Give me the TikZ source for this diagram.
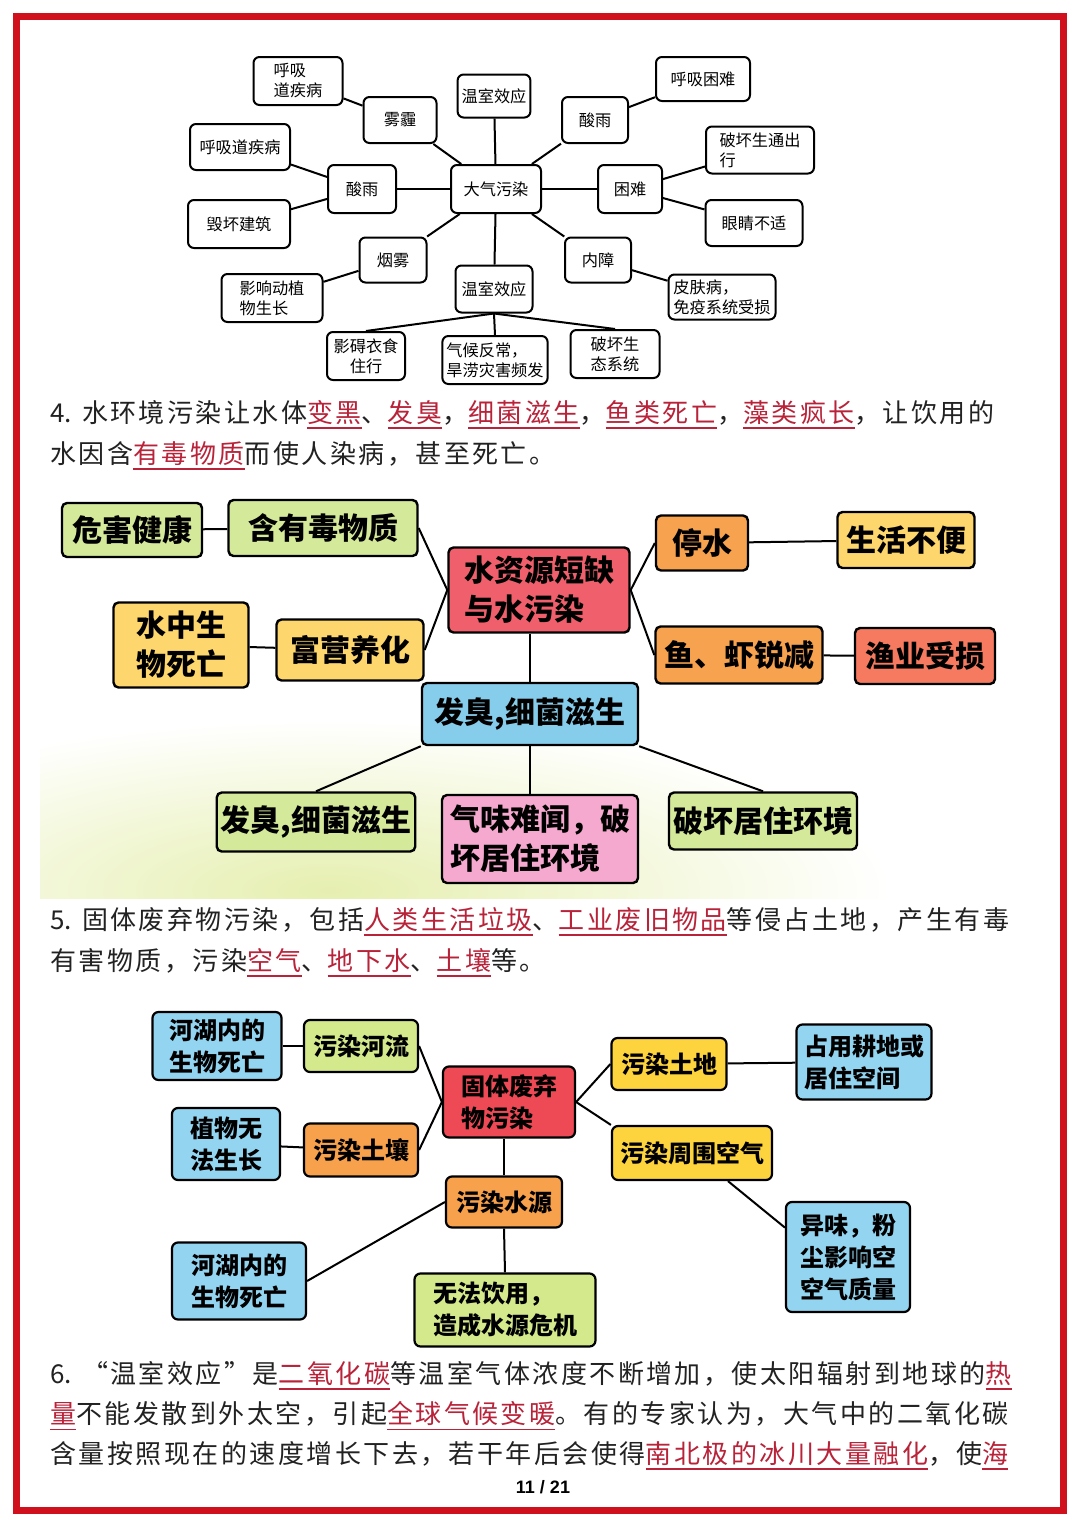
\documentclass[tikz,border=0pt]{standalone}
\usepackage{fontspec}
\usepackage{tikz}
\usetikzlibrary{positioning}
\setmainfont{Noto Sans CJK SC}
\newfontfamily\corps[LetterSpace=9.5]{Noto Sans CJK SC}
\newfontfamily\schema{Noto Sans CJK SC}
\newfontfamily\numpage{Liberation Sans}
\definecolor{cadrerouge}{HTML}{D0101C}
\definecolor{soulrouge}{HTML}{B8233A}
\definecolor{encre}{HTML}{222222}
\definecolor{vertB}{HTML}{D5E99A}
\definecolor{jauneB}{HTML}{FDD66E}
\definecolor{orangeB}{HTML}{F7A24E}
\definecolor{rougeB}{HTML}{F0606C}
\definecolor{corailB}{HTML}{F57A5F}
\definecolor{bleuB}{HTML}{86CDEC}
\definecolor{roseB}{HTML}{F5A9CE}
\definecolor{vertC}{HTML}{D4E98C}
\definecolor{rougeC}{HTML}{EE4A56}
\definecolor{jauneC}{HTML}{FDD43E}
\definecolor{orangeC}{HTML}{F7A14C}
\definecolor{bleuC}{HTML}{93D5F1}
\definecolor{lavis}{HTML}{E6EFB0}
\newcommand{\souligne}[1]{\setbox0\hbox{#1}\rlap{\color{soulrouge}\rule[-0.24em]{\wd0}{0.85pt}}{\color{soulrouge}#1}}
\newcommand{\numero}[1]{{\schema #1}\hspace{5pt}}

\begin{document}
\begin{tikzpicture}[x=0.5pt, y=-0.5pt,
  taille/.style 2 args={minimum width=#1*0.5pt, minimum height=#2*0.5pt},
  blocA/.style={draw, line width=1pt, rounded corners=3pt, inner sep=2pt, align=left,
    font=\schema\fontsize{8.1}{10}\selectfont},
  blocB/.style={draw, line width=1.2pt, rounded corners=2.5pt, inner sep=2pt, align=left,
    font=\schema\bfseries\fontsize{15}{19.5}\selectfont},
  blocC/.style={draw, line width=1.1pt, rounded corners=3pt, inner sep=2pt, align=left,
    font=\schema\bfseries\fontsize{12}{16}\selectfont},
  para/.style={anchor=west, inner sep=0pt, text=encre, font=\corps\fontsize{13}{14}\selectfont},
  lien/.style={line width=1pt}]
  \useasboundingbox (0,0) rectangle (1080,1527);
  \fill[white] (0,0) rectangle (1080,1527);
  \draw[cadrerouge, line width=3.5pt] (16.5,16.5) rectangle (1063.5,1510.5);

  % air pollution
  \node[blocA, taille={89}{48}] (hxA) at (298,81) {呼吸\\道疾病};
  \node[blocA, taille={72}{43}] (wsH) at (494,96) {温室效应};
  \node[blocA, taille={94}{44}] (hxkn) at (703,79) {呼吸困难};
  \node[blocA, taille={73}{46}] (wm) at (400,120) {雾霾};
  \node[blocA, taille={66}{46}] (syD) at (595,120) {酸雨};
  \node[blocA, taille={100}{46}] (hxd) at (240,147) {呼吸道疾病};
  \node[blocA, taille={108}{47}] (phcx) at (760,150) {破坏生通出\\行};
  \node[blocA, taille={68}{48}] (syG) at (362,189) {酸雨};
  \node[blocA, taille={90}{48}] (dq) at (496,189) {大气污染};
  \node[blocA, taille={64}{48}] (kn) at (630,189) {困难};
  \node[blocA, taille={102}{48}] (hhjz) at (239,224) {毁坏建筑};
  \node[blocA, taille={97}{46}] (yjbs) at (754,223) {眼睛不适};
  \node[blocA, taille={67}{45}] (yw) at (393,260) {烟雾};
  \node[blocA, taille={66}{45}] (nz) at (598,260) {内障};
  \node[blocA, taille={101}{48}] (yxdz) at (272,298) {影响动植\\物生长};
  \node[blocA, taille={77}{47}] (wsB) at (494,289) {温室效应};
  \node[blocA, taille={107}{45}] (pfb) at (722,297) {皮肤病，\\免疫系统受损};
  \node[blocA, taille={78}{48}, align=center] (yasy) at (366,356) {影碍衣食\\住行};
  \node[blocA, taille={101}{48}] (qhfc) at (495,360) {气候反常，\\旱涝灾害频发};
  \node[blocA, taille={89}{48}] (phst) at (615,354) {破坏生\\态系统};
  \draw[lien] (dq) -- (wsH);
  \draw[lien] (dq) -- (wm);
  \draw[lien] (dq) -- (syD);
  \draw[lien] (dq) -- (syG);
  \draw[lien] (dq) -- (kn);
  \draw[lien] (dq) -- (yw);
  \draw[lien] (dq) -- (nz);
  \draw[lien] (dq) -- (wsB);
  \draw[lien] (wm) -- (hxA);
  \draw[lien] (syD) -- (hxkn);
  \draw[lien] (syG) -- (hxd);
  \draw[lien] (syG) -- (hhjz);
  \draw[lien] (kn) -- (phcx);
  \draw[lien] (kn) -- (yjbs);
  \draw[lien] (yw) -- (yxdz);
  \draw[lien] (nz) -- (pfb);
  \draw[lien] (wsB.south) -- (yasy.north);
  \draw[lien] (wsB.south) -- (qhfc.north);
  \draw[lien] (wsB.south) -- (phst.north);

  \node[para] (t4a) at (50,415) {\numero{4.}水环境污染让水体\souligne{变黑}、\souligne{发臭}，\souligne{细菌滋生}，\souligne{鱼类死亡}，\souligne{藻类疯长}，让饮用的};
  \node[para] (t4b) at (50,456) {水因含\souligne{有毒物质}而使人染病，甚至死亡。};

  % water pollution
  \begin{scope}
    \clip (40,700) rectangle (1020,898);
    \shade[inner color=lavis, outer color=white] (330,890) ellipse (560 and 170);
  \end{scope}
  \node[blocB, fill=vertB, taille={140}{54}] (whjk) at (132,530) {危害健康};
  \node[blocB, fill=vertB, taille={189}{56}] (hydw) at (323,528) {含有毒物质};
  \node[blocB, fill=rougeB, taille={181}{85}] (szy) at (539,590) {水资源短缺\\与水污染};
  \node[blocB, fill=orangeB, taille={92}{55}] (ts) at (702,543) {停水};
  \node[blocB, fill=jauneB, taille={137}{56}] (shbb) at (906,540) {生活不便};
  \node[blocB, fill=jauneB, taille={135}{85}] (szsw) at (181,645) {水中生\\物死亡};
  \node[blocB, fill=jauneB, taille={147}{61}] (fyyh) at (350,650) {富营养化};
  \node[blocB, fill=orangeB, taille={167}{57}] (yxrj) at (739,655) {鱼、虾锐减};
  \node[blocB, fill=corailB, taille={140}{56}] (yyss) at (925,656) {渔业受损};
  \node[blocB, fill=bleuB, taille={216}{62}] (fcB) at (530,714) {发臭,细菌滋生};
  \node[blocB, fill=vertB, taille={196}{59}] (fcV) at (316,822) {发臭,细菌滋生};
  \node[blocB, fill=roseB, taille={196}{88}] (qwnw) at (540,839) {气味难闻，破\\坏居住环境};
  \node[blocB, fill=vertB, taille={187}{57}] (phjz) at (763,821) {破坏居住环境};
  \draw[lien] (whjk) -- (hydw);
  \draw[lien] (hydw.east) -- (szy.west);
  \draw[lien] (fyyh.east) -- (szy.west);
  \draw[lien] (szsw) -- (fyyh);
  \draw[lien] (szy.east) -- (ts.west);
  \draw[lien] (szy.east) -- (yxrj.west);
  \draw[lien] (ts) -- (shbb);
  \draw[lien] (yxrj) -- (yyss);
  \draw[lien] (fcB.north) -- (fcB.north |- szy.south);
  \draw[lien] (fcB.south west) -- (fcV.north);
  \draw[lien] (fcB.south) -- (fcB.south |- qwnw.north);
  \draw[lien] (fcB.south east) -- (phjz.north);

  \node[para] (t5a) at (50,922) {\numero{5.}固体废弃物污染，包括\souligne{人类生活垃圾}、\souligne{工业废旧物品}等侵占土地，产生有毒};
  \node[para] (t5b) at (50,963) {有害物质，污染\souligne{空气}、\souligne{地下水}、\souligne{土壤}等。};

  % solid waste
  \node[blocC, fill=bleuC, taille={129}{68}] (hhA) at (217,1046) {河湖内的\\生物死亡};
  \node[blocC, fill=vertC, taille={114}{52}] (wrhl) at (361,1046) {污染河流};
  \node[blocC, fill=rougeC, taille={132}{71}] (gtfq) at (509,1102) {固体废弃\\物污染};
  \node[blocC, fill=jauneC, taille={115}{52}] (wrtd) at (669,1064) {污染土地};
  \node[blocC, fill=bleuC, taille={135}{75}] (zygd) at (864,1062) {占用耕地或\\居住空间};
  \node[blocC, fill=bleuC, taille={108}{72}] (zwwf) at (226,1144) {植物无\\法生长};
  \node[blocC, fill=orangeC, taille={114}{53}] (wrtr) at (361,1150) {污染土壤};
  \node[blocC, fill=jauneC, taille={160}{54}] (wrzw) at (692,1153) {污染周围空气};
  \node[blocC, fill=orangeC, taille={116}{51}] (wrsy) at (504,1202) {污染水源};
  \node[blocC, fill=bleuC, taille={134}{77}] (hhB) at (239,1281) {河湖内的\\生物死亡};
  \node[blocC, fill=vertC, taille={181}{73}] (wfyy) at (505,1310) {无法饮用，\\造成水源危机};
  \node[blocC, fill=bleuC, taille={124}{110}] (ywfc) at (848,1257) {异味，粉\\尘影响空\\空气质量};
  \draw[lien] (hhA) -- (wrhl);
  \draw[lien] (wrhl.east) -- (gtfq.west);
  \draw[lien] (wrtr.east) -- (gtfq.west);
  \draw[lien] (zwwf) -- (wrtr);
  \draw[lien] (gtfq.east) -- (wrtd.west);
  \draw[lien] (gtfq.east) -- (wrzw.north west);
  \draw[lien] (wrtd) -- (zygd);
  \draw[lien] (wrsy.north) -- (wrsy.north |- gtfq.south);
  \draw[lien] (wrsy.west) -- (hhB.east);
  \draw[lien] (wrsy.south) -- (wfyy.north);
  \draw[lien] (wrzw.-38) -- (ywfc.155);

  \node[para] (t6a) at (50,1376) {\numero{6.}“温室效应”是\souligne{二氧化碳}等温室气体浓度不断增加，使太阳辐射到地球的\souligne{热}};
  \node[para] (t6b) at (50,1416) {\souligne{量}不能发散到外太空，引起\souligne{全球气候变暖}。有的专家认为，大气中的二氧化碳};
  \node[para] (t6c) at (50,1456) {含量按照现在的速度增长下去，若干年后会使得\souligne{南北极的冰川大量融化}，使\souligne{海}};
  \node[font=\numpage\bfseries\fontsize{9}{11}\selectfont] (pg) at (543,1487) {11 / 21};
\end{tikzpicture}
\end{document}
